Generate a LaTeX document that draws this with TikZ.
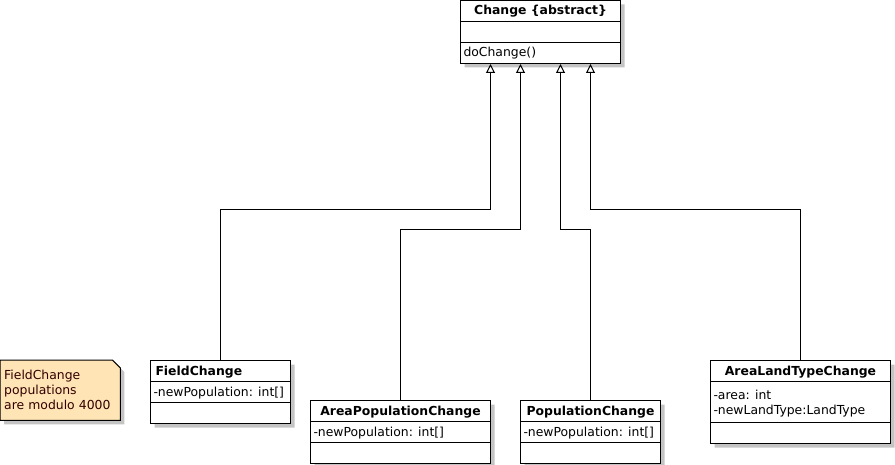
\documentclass[tikz,border=0pt]{standalone}
\usepackage{fontspec}
\setmainfont{DejaVu Sans}
\usepackage{tikz}
\usetikzlibrary{arrows.meta, shapes.multipart, shadows, backgrounds}
\definecolor{NoteYellow}{HTML}{FFE4B5}
\definecolor{ShadowGrey}{HTML}{C4C4C4}
% one compartment of a class box: width, alignment, text
\newcommand{\crow}[3]{\makebox[#1pt][#2]{\rule[-6pt]{0pt}{20pt}\hspace{3pt}#3\hspace{3pt}}}

\begin{document}
\begin{tikzpicture}[x=1pt, y=-1pt, font=\fontsize{12.4}{15}\selectfont,
    umlclass/.style={rectangle split, rectangle split parts=3, draw, line width=1pt, fill=white, inner sep=0pt, anchor=north west,
        drop shadow={shadow xshift=4pt, shadow yshift=-4pt, fill=ShadowGrey, opacity=1}},
    notebox/.style={anchor=north west, minimum height=60pt, text width=112pt, inner sep=4pt, align=left, text=black!80!red},
    inherit/.style={line width=1pt, -{Triangle[open, length=9pt, width=9pt]}}]

    \useasboundingbox (0,0) rectangle (895,465);

    % Classes
    \node[umlclass] (change) at (460,0) {\crow{160}{c}{\bfseries Change \{abstract\}}\nodepart{two}\crow{160}{l}{}\nodepart{three}\crow{160}{l}{doChange()}};
    \node[umlclass] (field) at (150,360) {\crow{140}{l}{\hspace{2pt}\bfseries FieldChange}\nodepart{two}\crow{140}{l}{-newPopulation: int[]}\nodepart{three}\crow{140}{l}{}};
    \node[umlclass] (apop) at (310,400) {\crow{180}{c}{\bfseries AreaPopulationChange}\nodepart{two}\crow{180}{l}{-newPopulation: int[]}\nodepart{three}\crow{180}{l}{}};
    \node[umlclass] (pop) at (520,400) {\crow{140}{c}{\bfseries PopulationChange}\nodepart{two}\crow{140}{l}{-newPopulation: int[]}\nodepart{three}\crow{140}{l}{}};
    \node[umlclass] (alt) at (710,360) {\crow{180}{c}{\bfseries AreaLandTypeChange}\nodepart{two}\makebox[180pt][l]{\rule[-8pt]{0pt}{40pt}\hspace{3pt}\begin{tabular}[b]{@{}l@{}}-area: int\\-newLandType:LandType\end{tabular}}\nodepart{three}\crow{180}{l}{}};

    % Note
    \node[notebox] (note) at (0,360) {FieldChange\\populations\\are modulo 4000};
    \begin{scope}[on background layer]
        \draw[line width=1pt, fill=NoteYellow, drop shadow={shadow xshift=4pt, shadow yshift=-4pt, fill=ShadowGrey, opacity=1}]
            (note.north west) -- ([xshift=-8pt]note.north east) -- ([yshift=-8pt]note.north east) -- (note.south east) -- (note.south west) -- cycle;
    \end{scope}

    % Generalisations
    \draw[inherit] (field.north) |- ++(270,-150) -- ([xshift=-50pt]change.south);
    \draw[inherit] (apop.north) |- ++(120,-170) -- ([xshift=-20pt]change.south);
    \draw[inherit] (pop.north) |- ++(-30,-170) -- ([xshift=20pt]change.south);
    \draw[inherit] (alt.north) |- ++(-210,-150) -- ([xshift=50pt]change.south);
\end{tikzpicture}
\end{document}
